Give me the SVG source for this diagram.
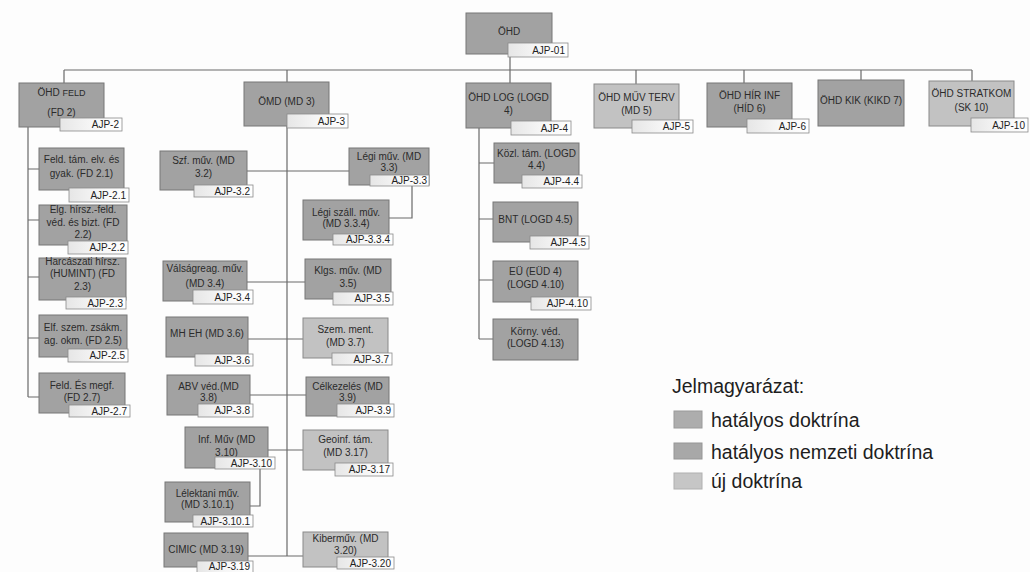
<svg xmlns="http://www.w3.org/2000/svg" width="1030" height="572" viewBox="0 0 1030 572">
<defs>
<linearGradient id="tg" x1="0" y1="0" x2="1" y2="0">
<stop offset="0" stop-color="#e6e6e6"/>
<stop offset="0.5" stop-color="#f6f6f6"/>
<stop offset="1" stop-color="#ffffff"/>
</linearGradient>
<style>
.b{fill:#a2a2a2;stroke:#777777;stroke-width:1}
.bl{fill:#c2c2c2;stroke:#8a8a8a;stroke-width:1}
.t{fill:url(#tg);stroke:#8a8a8a;stroke-width:0.8}
.x{font-family:"Liberation Sans",Arial,sans-serif;font-size:10px;fill:#2b2b2b;text-anchor:middle}
.tx{font-family:"Liberation Sans",Arial,sans-serif;font-size:10px;fill:#222;text-anchor:end}
.c{stroke:#6a6a6a;stroke-width:1.2;fill:none}
.lg{font-family:"Liberation Sans",Arial,sans-serif;font-size:19.5px;fill:#1e1e1e}
</style>
</defs>
<rect width="1030" height="572" fill="#fdfdfd"/>
<g id="connectors" class="c">
<path d="M64,70 H972"/>
<path d="M64,70 V83 M287,70 V82 M510,57 V83 M636,70 V84 M744,70 V83 M861,70 V80 M972,70 V81"/>
<path d="M28,127 V397 M28,169 H39 M28,220 H39 M28,277 H39 M28,338 H39 M28,397 H39"/>
<path d="M287,126 V556"/>
<path d="M247,171 H349 M412,185 V218 H389 M247,282 H305 M248,339 H303 M250,395 H306 M268,450 H303 M260,469 V506 H250 M248,556 H303"/>
<path d="M479,128 V339 M479,163 H494 M479,219 H493 M479,280 H493 M479,339 H493"/>
</g>
<g id="n-ohd"><rect class="b" x="466" y="13" width="86" height="41"/><text class="x" x="509" y="35">ÖHD</text><rect class="t" x="508" y="43" width="60" height="14"/><text class="tx" x="565" y="54">AJP-01</text></g>
<g id="n-feld"><rect class="b" x="19" y="83" width="85" height="44"/><text class="x" x="61.5" y="96" font-size="11">ÖHD <tspan font-size="9">FELD</tspan></text><text class="x" x="61.5" y="116" font-size="12">(FD 2)</text><rect class="t" x="60" y="118" width="62" height="13"/><text class="tx" x="119" y="128">AJP-2</text></g>
<g id="n-omd"><rect class="b" x="244" y="82" width="85" height="44"/><text class="x" x="286.5" y="105" font-size="11">ÖMD (MD 3)</text><rect class="t" x="287" y="114" width="61" height="14"/><text class="tx" x="345" y="125">AJP-3</text></g>
<g id="n-log"><rect class="b" x="466" y="83" width="85" height="45"/><text class="x" x="508.5" y="101">ÖHD LOG (LOGD</text><text class="x" x="508.5" y="114">4)</text><rect class="t" x="511" y="121" width="60" height="14"/><text class="tx" x="568" y="132">AJP-4</text></g>
<g id="n-muv"><rect class="bl" x="594" y="84" width="85" height="44"/><text class="x" x="636.5" y="101">ÖHD MŰV TERV</text><text class="x" x="636.5" y="114">(MD 5)</text><rect class="t" x="632" y="120" width="61" height="13"/><text class="tx" x="690" y="130">AJP-5</text></g>
<g id="n-hir"><rect class="b" x="707" y="83" width="85" height="44"/><text class="x" x="749.5" y="99">ÖHD HÍR INF</text><text class="x" x="749.5" y="112">(HÍD 6)</text><rect class="t" x="747" y="119" width="62" height="14"/><text class="tx" x="806" y="130">AJP-6</text></g>
<g id="n-kik"><rect class="b" x="818" y="80" width="86" height="46"/><text class="x" x="861" y="104">ÖHD KIK (KIKD 7)</text></g>
<g id="n-strat"><rect class="bl" x="929" y="81" width="85" height="45"/><text class="x" x="971.5" y="97">ÖHD STRATKOM</text><text class="x" x="971.5" y="111">(SK 10)</text><rect class="t" x="971" y="118" width="57" height="14"/><text class="tx" x="1025" y="129">AJP-10</text></g>
<g id="n-fd21"><rect class="b" x="39" y="148" width="85" height="42"/><text class="x" x="81.5" y="163">Feld. tám. elv. és</text><text class="x" x="81.5" y="177">gyak. (FD 2.1)</text><rect class="t" x="69" y="188" width="60" height="14"/><text class="tx" x="126" y="199">AJP-2.1</text></g>
<g id="n-fd22"><rect class="b" x="39" y="205" width="88" height="40"/><text class="x" x="83" y="213">Elg. hírsz.-feld.</text><text class="x" x="83" y="226">véd. és bizt. (FD</text><text class="x" x="83" y="238">2.2)</text><rect class="t" x="68" y="241" width="60" height="13"/><text class="tx" x="125" y="251">AJP-2.2</text></g>
<g id="n-fd23"><rect class="b" x="39" y="258" width="87" height="42"/><text class="x" x="82.5" y="265">Harcászati hírsz.</text><text class="x" x="82.5" y="277">(HUMINT) (FD</text><text class="x" x="82.5" y="290">2.3)</text><rect class="t" x="66" y="297" width="60" height="12"/><text class="tx" x="123" y="307">AJP-2.3</text></g>
<g id="n-fd25"><rect class="b" x="39" y="315" width="88" height="42"/><text class="x" x="83" y="331">Elf. szem. zsákm.</text><text class="x" x="83" y="344">ag. okm. (FD 2.5)</text><rect class="t" x="68" y="349" width="60" height="13"/><text class="tx" x="125" y="359">AJP-2.5</text></g>
<g id="n-fd27"><rect class="b" x="39" y="373" width="86" height="40"/><text class="x" x="82" y="389">Feld. És megf.</text><text class="x" x="82" y="401">(FD 2.7)</text><rect class="t" x="69" y="405" width="61" height="12"/><text class="tx" x="127" y="415">AJP-2.7</text></g>
<g id="n-md32"><rect class="b" x="160" y="151" width="87" height="39"/><text class="x" x="203.5" y="164">Szf. műv. (MD</text><text class="x" x="203.5" y="177">3.2)</text><rect class="t" x="194" y="185" width="59" height="12"/><text class="tx" x="250" y="195">AJP-3.2</text></g>
<g id="n-md33"><rect class="b" x="349" y="148" width="80" height="37"/><text class="x" x="389" y="160">Légi műv. (MD</text><text class="x" x="389" y="171">3.3)</text><rect class="t" x="370" y="175" width="59" height="11"/><text class="tx" x="427" y="184">AJP-3.3</text></g>
<g id="n-md334"><rect class="b" x="303" y="200" width="86" height="40"/><text class="x" x="346" y="216">Légi száll. műv.</text><text class="x" x="346" y="227">(MD 3.3.4)</text><rect class="t" x="333" y="234" width="60" height="11"/><text class="tx" x="390" y="243">AJP-3.3.4</text></g>
<g id="n-md34"><rect class="b" x="163" y="261" width="84" height="40"/><text class="x" x="205" y="272">Válságreag. műv.</text><text class="x" x="205" y="287">(MD 3.4)</text><rect class="t" x="193" y="290" width="60" height="14"/><text class="tx" x="250" y="301">AJP-3.4</text></g>
<g id="n-md35"><rect class="b" x="305" y="259" width="86" height="40"/><text class="x" x="348" y="274">Klgs. műv. (MD</text><text class="x" x="348" y="287">3.5)</text><rect class="t" x="333" y="292" width="60" height="13"/><text class="tx" x="390" y="302">AJP-3.5</text></g>
<g id="n-md36"><rect class="b" x="166" y="317" width="82" height="40"/><text class="x" x="207" y="337">MH EH (MD 3.6)</text><rect class="t" x="195" y="354" width="58" height="12"/><text class="tx" x="250" y="364">AJP-3.6</text></g>
<g id="n-md37"><rect class="bl" x="303" y="318" width="85" height="40"/><text class="x" x="345.5" y="333">Szem.  ment.</text><text class="x" x="345.5" y="346">(MD 3.7)</text><rect class="t" x="332" y="353" width="60" height="12"/><text class="tx" x="389" y="363">AJP-3.7</text></g>
<g id="n-md38"><rect class="b" x="167" y="375" width="83" height="40"/><text class="x" x="208.5" y="390">ABV véd.(MD</text><text class="x" x="208.5" y="401">3.8)</text><rect class="t" x="198" y="404" width="55" height="13"/><text class="tx" x="250" y="414">AJP-3.8</text></g>
<g id="n-md39"><rect class="b" x="306" y="377" width="83" height="39"/><text class="x" x="347.5" y="390">Célkezelés (MD</text><text class="x" x="347.5" y="401">3.9)</text><rect class="t" x="337" y="404" width="57" height="13"/><text class="tx" x="391" y="414">AJP-3.9</text></g>
<g id="n-md310"><rect class="b" x="185" y="427" width="83" height="41"/><text class="x" x="226.5" y="443">Inf. Műv (MD</text><text class="x" x="226.5" y="456">3.10)</text><rect class="t" x="215" y="457" width="60" height="12"/><text class="tx" x="272" y="467">AJP-3.10</text></g>
<g id="n-md317"><rect class="bl" x="303" y="430" width="85" height="40"/><text class="x" x="345.5" y="443">Geoinf. tám.</text><text class="x" x="345.5" y="456">(MD 3.17)</text><rect class="t" x="335" y="463" width="58" height="13"/><text class="tx" x="390" y="473">AJP-3.17</text></g>
<g id="n-md3101"><rect class="b" x="165" y="482" width="85" height="40"/><text class="x" x="207.5" y="497">Lélektani műv.</text><text class="x" x="207.5" y="508">(MD 3.10.1)</text><rect class="t" x="193" y="515" width="60" height="12"/><text class="tx" x="250" y="525">AJP-3.10.1</text></g>
<g id="n-md319"><rect class="b" x="164" y="533" width="84" height="34"/><text class="x" x="206" y="553">CIMIC (MD 3.19)</text><rect class="t" x="197" y="561" width="56" height="12"/><text class="tx" x="250" y="570">AJP-3.19</text></g>
<g id="n-md320"><rect class="bl" x="303" y="532" width="85" height="35"/><text class="x" x="345.5" y="542">Kiberműv. (MD</text><text class="x" x="345.5" y="554">3.20)</text><rect class="t" x="337" y="557" width="57" height="12"/><text class="tx" x="391" y="567">AJP-3.20</text></g>
<g id="n-logd44"><rect class="b" x="494" y="143" width="85" height="40"/><text class="x" x="536.5" y="157">Közl. tám. (LOGD</text><text class="x" x="536.5" y="169">4.4)</text><rect class="t" x="522" y="175" width="60" height="13"/><text class="tx" x="579" y="185">AJP-4.4</text></g>
<g id="n-logd45"><rect class="b" x="493" y="202" width="85" height="40"/><text class="x" x="535.5" y="223">BNT (LOGD 4.5)</text><rect class="t" x="530" y="236" width="59" height="13"/><text class="tx" x="586" y="246">AJP-4.5</text></g>
<g id="n-logd410"><rect class="b" x="493" y="261" width="85" height="41"/><text class="x" x="535.5" y="275">EÜ (EÜD 4)</text><text class="x" x="535.5" y="288">(LOGD 4.10)</text><rect class="t" x="531" y="297" width="60" height="13"/><text class="tx" x="588" y="307">AJP-4.10</text></g>
<g id="n-logd413"><rect class="b" x="493" y="319" width="85" height="41"/><text class="x" x="535.5" y="335">Körny. véd.</text><text class="x" x="535.5" y="347">(LOGD 4.13)</text></g>
<g id="legend">
<text class="lg" x="672" y="393">Jelmagyarázat:</text>
<rect x="674" y="411" width="28" height="17" fill="#adadad" stroke="#9a9a9a"/>
<text class="lg" x="711" y="427">hatályos doktrína</text>
<rect x="674" y="443" width="28" height="16" fill="#a8a8a8" stroke="#969696"/>
<text class="lg" x="711" y="459">hatályos nemzeti doktrína</text>
<rect x="674" y="473" width="28" height="16" fill="#c6c6c6" stroke="#b0b0b0"/>
<text class="lg" x="711" y="488">új doktrína</text>
</g>
</svg>
